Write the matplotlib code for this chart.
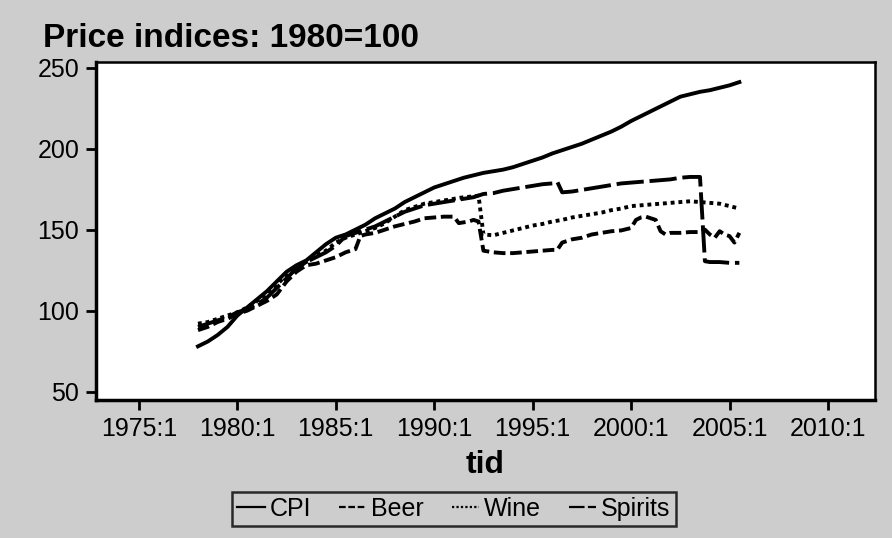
import numpy as np
import matplotlib
matplotlib.use('Agg')
import matplotlib.pyplot as plt

plt.rcParams['font.family'] = ['Liberation Sans', 'DejaVu Sans']

# quarterly-ish readings (year as decimal)
cpi_t = [1978.0, 1978.5, 1979.0, 1979.5, 1980.0, 1980.5, 1981.0, 1981.5, 1982.0, 1982.5,
         1983.0, 1983.5, 1984.0, 1984.5, 1985.0, 1985.5, 1986.0, 1986.5, 1987.0, 1987.5,
         1988.0, 1988.5, 1989.0, 1989.5, 1990.0, 1990.5, 1991.0, 1991.5, 1992.0, 1992.5,
         1993.0, 1993.5, 1994.0, 1994.5, 1995.0, 1995.5, 1996.0, 1996.5, 1997.0, 1997.5,
         1998.0, 1998.5, 1999.0, 1999.5, 2000.0, 2000.5, 2001.0, 2001.5, 2002.0, 2002.5,
         2003.0, 2003.5, 2004.0, 2004.5, 2005.0, 2005.5]
cpi = [78, 81, 85, 90, 97, 102, 107, 112, 118, 124,
       128, 131, 136, 141, 145, 147, 150, 153, 157, 160,
       163, 167, 170, 173, 176, 178, 180, 182, 183.5, 185,
       186, 187, 188.5, 190.5, 192.5, 194.5, 197, 199, 201, 203,
       205.5, 208, 210.5, 213.5, 217, 220, 223, 226, 229, 232,
       233.5, 235, 236, 237.5, 239, 241]

beer_t = [1978.0, 1978.5, 1979.0, 1979.5, 1980.0, 1980.5, 1981.0, 1981.5, 1982.0, 1982.5,
          1983.0, 1983.5, 1984.0, 1984.5, 1985.0, 1985.5, 1986.0, 1986.25, 1986.5, 1987.0,
          1987.5, 1988.0, 1988.5, 1989.0, 1989.5, 1990.0, 1990.5, 1991.0, 1991.25, 1991.75,
          1992.0, 1992.25, 1992.5, 1993.0, 1993.5, 1994.0, 1994.5, 1995.0, 1995.5, 1996.0,
          1996.25, 1996.5, 1997.0, 1997.5, 1998.0, 1998.5, 1999.0, 1999.5, 2000.0, 2000.25,
          2000.5, 2000.75, 2001.0, 2001.25, 2001.5, 2001.75, 2002.0, 2002.5, 2003.0, 2003.5,
          2003.75, 2004.0, 2004.25, 2004.5, 2004.75, 2005.0, 2005.25, 2005.5]
beer = [88, 90, 93, 95, 98, 100, 103, 106, 110, 118,
        124, 128, 129, 131, 133, 136, 138, 146, 147, 148,
        150, 152, 153.5, 155, 157, 157.5, 158, 158, 154, 155,
        156, 155, 137, 136, 135.5, 135.5, 136, 136.5, 137, 137.5,
        137.5, 142, 144, 145, 147, 148, 149, 149.5, 151, 156,
        157.5, 158, 157, 156, 149, 147, 148, 148, 148.5, 148.5,
        150, 147, 145, 149, 147, 146, 142, 148]

wine_t = [1978.0, 1978.5, 1979.0, 1979.5, 1980.0, 1980.5, 1981.0, 1981.5, 1982.0, 1982.5,
          1983.0, 1983.5, 1984.0, 1984.5, 1985.0, 1985.5, 1986.0, 1986.5, 1987.0, 1987.5,
          1988.0, 1988.5, 1989.0, 1989.5, 1990.0, 1990.5, 1991.0, 1991.5, 1992.0, 1992.25,
          1992.5, 1993.0, 1993.5, 1994.0, 1994.5, 1995.0, 1995.5, 1996.0, 1996.5, 1997.0,
          1997.5, 1998.0, 1998.5, 1999.0, 1999.5, 2000.0, 2000.5, 2001.0, 2001.5, 2002.0,
          2002.5, 2003.0, 2003.5, 2004.0, 2004.5, 2005.0, 2005.5]
wine = [92, 93, 95, 97, 99, 102, 106, 110, 116, 122,
        127, 130, 134, 137, 142, 145, 147, 149, 151, 154,
        158, 162, 164, 166, 167, 168, 169, 170, 170.5, 171,
        147, 146.5, 148, 149.5, 151, 152.5, 153.5, 155, 156, 157.5,
        158.5, 159.5, 160.5, 162, 163, 164.5, 165, 165.5, 166, 166.5,
        167, 167.5, 167, 166.5, 166, 164.5, 163]

spirits_t = [1978.0, 1978.5, 1979.0, 1979.5, 1980.0, 1980.5, 1981.0, 1981.5, 1982.0, 1982.5,
             1983.0, 1983.5, 1984.0, 1984.5, 1985.0, 1985.5, 1986.0, 1986.5, 1987.0, 1987.5,
             1988.0, 1988.5, 1989.0, 1989.5, 1990.0, 1990.5, 1991.0, 1991.5, 1992.0, 1992.5,
             1993.0, 1993.5, 1994.0, 1994.5, 1995.0, 1995.5, 1996.0, 1996.25, 1996.5, 1997.0,
             1997.5, 1998.0, 1998.5, 1999.0, 1999.5, 2000.0, 2000.5, 2001.0, 2001.5, 2002.0,
             2002.5, 2003.0, 2003.5, 2003.75, 2004.0, 2004.5, 2005.0, 2005.5]
spirits = [90, 92, 94, 96, 99, 101, 104, 108, 114, 120,
           126, 130, 133, 136, 140, 146, 148, 150, 152, 155,
           158, 161, 163, 165, 166, 167, 168, 169, 170, 172,
           172.5, 174, 175, 176, 177, 178, 178.5, 179.5, 173, 173.5,
           174.5, 175.5, 176.5, 177.5, 178.5, 179, 179.5, 180, 180.5, 181,
           182, 182.5, 182.5, 130.5, 130, 130, 129.5, 129.5]

xticks = [1975, 1980, 1985, 1990, 1995, 2000, 2005, 2010]
xticklabels = [str(y) + ':1' for y in xticks]
yticks = [50, 100, 150, 200, 250]

bg = '#cdcdcd'
fig = plt.figure(figsize=(8.92, 5.38), dpi=100, facecolor=bg)
ax = fig.add_axes([96/892, 1-400/538, (875-96)/892, (400-62)/538])
ax.set_facecolor('white')

lw = 2.8
ax.plot(cpi_t, cpi, color='black', lw=lw, linestyle='-', label='CPI')
ax.plot(beer_t, beer, color='black', lw=lw, linestyle=(0, (3, 1.2)), label='Beer')
ax.plot(wine_t, wine, color='black', lw=lw, linestyle=(0, (1, 1)), label='Wine')
ax.plot(spirits_t, spirits, color='black', lw=lw, linestyle=(0, (7, 1.5)), label='Spirits')

ax.set_xlim(1972.82, 2012.39)
ax.set_ylim(44.9, 253.4)
ax.set_xticks(xticks)
ax.set_xticklabels(xticklabels)
ax.set_yticks(yticks)
ax.tick_params(direction='out', length=7, width=2, labelsize=18, pad=5)

for s in ['left', 'bottom']:
    ax.spines[s].set_linewidth(2.5)
for s in ['top', 'right']:
    ax.spines[s].set_linewidth(1.8)

fig.text(43/892, 1-47/538, 'Price indices: 1980=100', fontsize=24,
         fontweight='bold', ha='left', va='baseline')
fig.text((96+875)/2/892, 1-473/538, 'tid', fontsize=23, fontweight='bold',
         ha='center', va='baseline')

leg = fig.legend(loc='center', bbox_to_anchor=(454/892, 1-509/538), ncol=4,
                 fontsize=18, frameon=True, fancybox=False, handlelength=1.1,
                 handletextpad=0.2, columnspacing=1.1, borderpad=0.2,
                 borderaxespad=0)
leg.get_frame().set_edgecolor('black')
leg.get_frame().set_linewidth(1.8)
leg.get_frame().set_facecolor(bg)
for h in leg.get_lines():
    h.set_linewidth(1.6)

plt.savefig('out.png', dpi=100, facecolor=bg)
plt.close()
